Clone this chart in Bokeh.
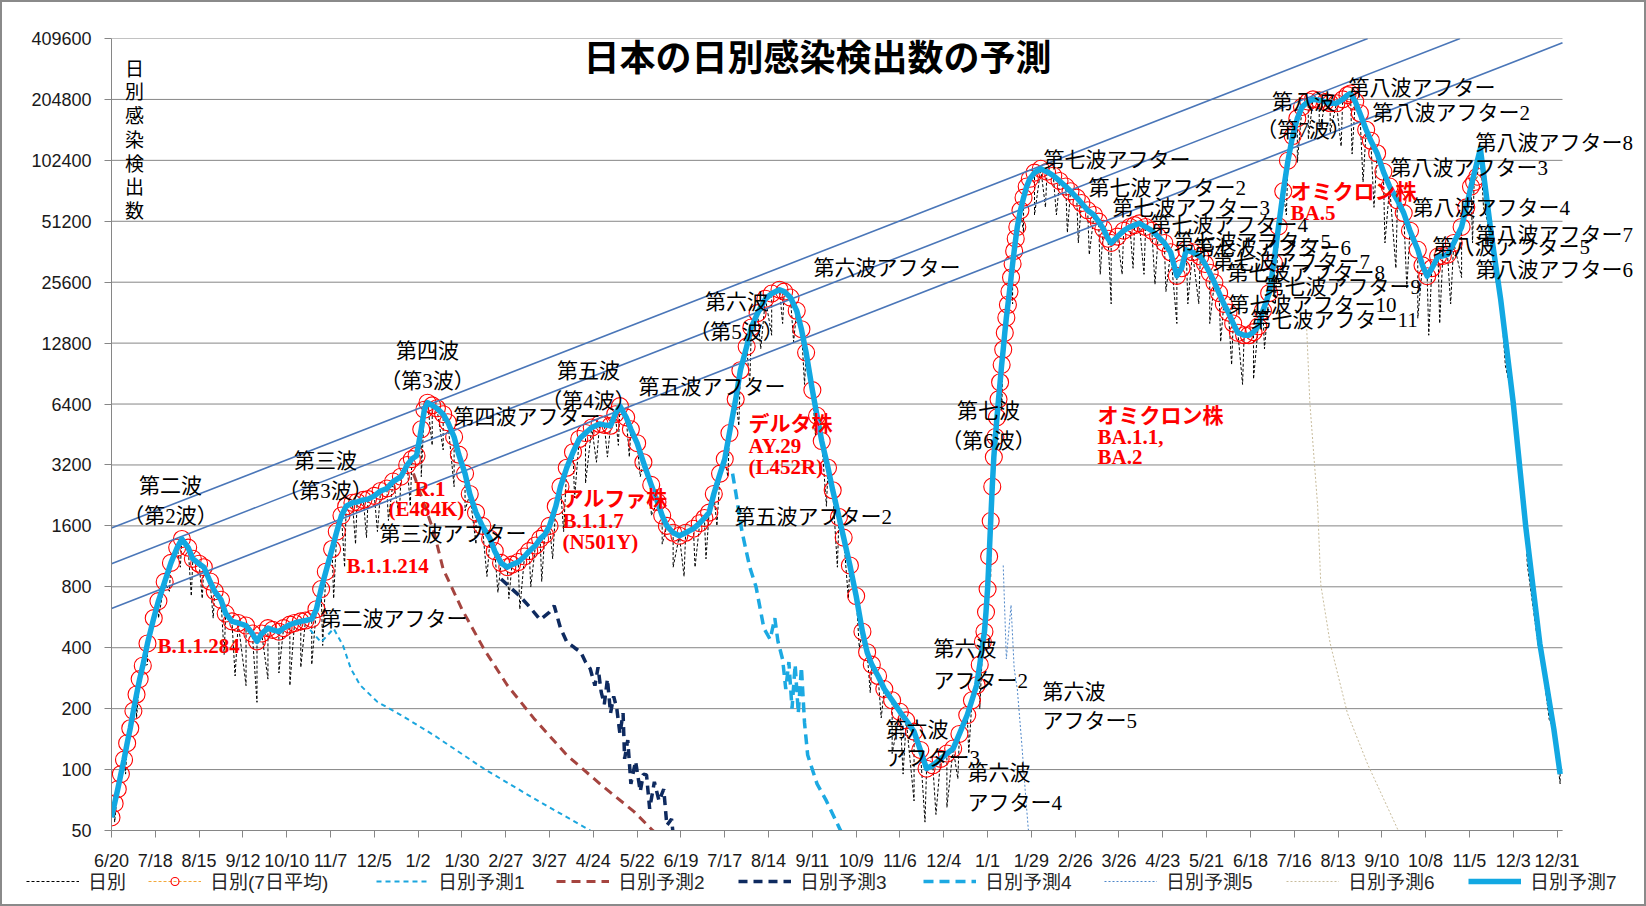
import pandas as pd
from bokeh.plotting import figure
from bokeh.layouts import column
from bokeh.models import Range1d, FixedTicker, Legend, LegendItem, Label, PrintfTickFormatter
from bokeh.embed import file_html
from bokeh.resources import INLINE

# ---------------------------------------------------------------- data
x_tick_labels = ["6/20", "7/18", "8/15", "9/12", "10/10", "11/7", "12/5", "1/2", "1/30", "2/27",
                 "3/27", "4/24", "5/22", "6/19", "7/17", "8/14", "9/11", "10/9", "11/6", "12/4",
                 "1/1", "1/29", "2/26", "3/26", "4/23", "5/21", "6/18", "7/16", "8/13", "9/10",
                 "10/8", "11/5", "12/3", "12/31"]
y_ticks = [50, 100, 200, 400, 800, 1600, 3200, 6400, 12800, 25600, 51200, 102400, 204800, 409600]

# 7-day average (red circles)
avg_dates = [
    "2020-06-20", "2020-06-22", "2020-06-24", "2020-06-26", "2020-06-28", "2020-06-30", "2020-07-02",
    "2020-07-04", "2020-07-06", "2020-07-08", "2020-07-10", "2020-07-13", "2020-07-17", "2020-07-20",
    "2020-07-24", "2020-07-28", "2020-08-01", "2020-08-04", "2020-08-08", "2020-08-11", "2020-08-15",
    "2020-08-18", "2020-08-22", "2020-08-25", "2020-08-29", "2020-09-01", "2020-09-05", "2020-09-09",
    "2020-09-14", "2020-09-18", "2020-09-21", "2020-09-24", "2020-09-28", "2020-10-01", "2020-10-05",
    "2020-10-08", "2020-10-12", "2020-10-15", "2020-10-19", "2020-10-22", "2020-10-26", "2020-10-29",
    "2020-11-01", "2020-11-04", "2020-11-08", "2020-11-11", "2020-11-14", "2020-11-17", "2020-11-21",
    "2020-11-24", "2020-11-28", "2020-12-01", "2020-12-05", "2020-12-09", "2020-12-13", "2020-12-17",
    "2020-12-22", "2020-12-26", "2020-12-29",
    "2021-01-01", "2021-01-04", "2021-01-06", "2021-01-08", "2021-01-11", "2021-01-14", "2021-01-18",
    "2021-01-21", "2021-01-25", "2021-01-28", "2021-02-01", "2021-02-04", "2021-02-08", "2021-02-12",
    "2021-02-17", "2021-02-20", "2021-02-24", "2021-02-28", "2021-03-03", "2021-03-07", "2021-03-11",
    "2021-03-14", "2021-03-18", "2021-03-21", "2021-03-24", "2021-03-27", "2021-03-31", "2021-04-03",
    "2021-04-07", "2021-04-11", "2021-04-15", "2021-04-19", "2021-04-23", "2021-04-28", "2021-05-01",
    "2021-05-05", "2021-05-08", "2021-05-11", "2021-05-15", "2021-05-18", "2021-05-22", "2021-05-26",
    "2021-05-31", "2021-06-04", "2021-06-07", "2021-06-10", "2021-06-14", "2021-06-18", "2021-06-22",
    "2021-06-27", "2021-07-01", "2021-07-04", "2021-07-07", "2021-07-10", "2021-07-14", "2021-07-17",
    "2021-07-20", "2021-07-24", "2021-07-27", "2021-07-31", "2021-08-03", "2021-08-07", "2021-08-12",
    "2021-08-16", "2021-08-21", "2021-08-24", "2021-08-28", "2021-09-01", "2021-09-04", "2021-09-07",
    "2021-09-11", "2021-09-14", "2021-09-17", "2021-09-21", "2021-09-24", "2021-09-28", "2021-10-01",
    "2021-10-05", "2021-10-09", "2021-10-13", "2021-10-16", "2021-10-19", "2021-10-23", "2021-10-27",
    "2021-11-01", "2021-11-06", "2021-11-10", "2021-11-15", "2021-11-19", "2021-11-23", "2021-11-27",
    "2021-12-02", "2021-12-06", "2021-12-10", "2021-12-14", "2021-12-19", "2021-12-22", "2021-12-25",
    "2021-12-27", "2021-12-29", "2021-12-30", "2021-12-31",
    "2022-01-01", "2022-01-02", "2022-01-03", "2022-01-04", "2022-01-05", "2022-01-06", "2022-01-07",
    "2022-01-08", "2022-01-09", "2022-01-10", "2022-01-11", "2022-01-12", "2022-01-13", "2022-01-14",
    "2022-01-15", "2022-01-16", "2022-01-17", "2022-01-18", "2022-01-19", "2022-01-20", "2022-01-22",
    "2022-01-24", "2022-01-26", "2022-01-28", "2022-01-31", "2022-02-04", "2022-02-08", "2022-02-12",
    "2022-02-16", "2022-02-20", "2022-02-23", "2022-02-27", "2022-03-02", "2022-03-06", "2022-03-10",
    "2022-03-13", "2022-03-16", "2022-03-19", "2022-03-21", "2022-03-25", "2022-03-29", "2022-04-02",
    "2022-04-05", "2022-04-08", "2022-04-12", "2022-04-16", "2022-04-20", "2022-04-24", "2022-04-28",
    "2022-05-02", "2022-05-05", "2022-05-08", "2022-05-12", "2022-05-17", "2022-05-20", "2022-05-23",
    "2022-05-26", "2022-05-29", "2022-06-01", "2022-06-04", "2022-06-07", "2022-06-10", "2022-06-14",
    "2022-06-17", "2022-06-20", "2022-06-23", "2022-06-26", "2022-06-30", "2022-07-03", "2022-07-06",
    "2022-07-09", "2022-07-12", "2022-07-15", "2022-07-18", "2022-07-21", "2022-07-25", "2022-07-28",
    "2022-08-01", "2022-08-05", "2022-08-08", "2022-08-12", "2022-08-16", "2022-08-19", "2022-08-21",
    "2022-08-24", "2022-08-27", "2022-08-31", "2022-09-03", "2022-09-07", "2022-09-11", "2022-09-15",
    "2022-09-20", "2022-09-24", "2022-09-28", "2022-10-03", "2022-10-06", "2022-10-09", "2022-10-12",
    "2022-10-16", "2022-10-19", "2022-10-22", "2022-10-26", "2022-10-31", "2022-11-03", "2022-11-06",
    "2022-11-08", "2022-11-10"]
avg_values = [
    58, 68, 80, 95, 112, 135, 160,
    195, 235, 280, 326, 420, 560, 680,
    846, 1050, 1250, 1378, 1250, 1100, 1040,
    1000, 850, 760, 690, 590, 540, 530,
    515, 470, 430, 470, 500, 490, 480,
    500, 520, 530, 540, 545, 555, 620,
    780, 950, 1230, 1500, 1800, 2000, 2080,
    2100, 2150, 2170, 2250, 2380, 2450, 2650,
    2800, 3200, 3420,
    3550, 4800, 6000, 6500, 6300, 6100, 5700,
    5200, 4400, 3600, 2900, 2300, 1860, 1600,
    1380, 1200, 1050, 1000, 1030, 1060, 1130,
    1200, 1280, 1380, 1450, 1600, 2000, 2500,
    3100, 3700, 4300, 4600, 4900, 5100, 5050,
    5000, 5700, 6250, 5500, 4800, 4100, 3300,
    2550, 2100, 1800, 1600, 1480, 1430, 1480,
    1550, 1650, 1750, 1860, 2300, 2900, 3420,
    4600, 6750, 9400, 12300, 15300, 18000, 21200,
    22500, 23500, 23000, 21500, 18500, 15000, 11500,
    7500, 5600, 4200, 3100, 2400, 1770, 1400,
    1020, 720, 480, 380, 330, 290, 250,
    220, 193, 175, 154, 125, 101, 105,
    113, 120, 127, 150, 186, 220, 261,
    330, 428, 480, 600,
    780, 1130, 1690, 2500, 3500, 4400, 5500,
    6750, 8200, 10000, 11900, 14400, 17100, 19800,
    23000, 27000, 31500, 36500, 42000, 48000, 58000,
    67000, 76000, 83000, 89000, 93000, 90000, 86000,
    81000, 76000, 72000, 67000, 63000, 58000, 55000,
    51000, 47000, 42000, 40000, 43000, 46000, 48000,
    49000, 50000, 48000, 46000, 43000, 40000, 36000,
    27500, 30000, 37000, 36000, 34300, 31500, 28500,
    25500, 22600, 20000, 18100, 16000, 14400, 14000,
    14000, 14500, 15500, 18500, 22600, 32000, 48300,
    72000, 102000, 135000, 165000, 188000, 200000, 205000,
    203000, 199000, 196000, 196000, 205000, 215000, 219000,
    200000, 175000, 145000, 128000, 111000, 90000, 76000,
    65000, 56200, 46000, 37000, 31000, 27400, 30000,
    34300, 34500, 35000, 40000, 48000, 60000, 76000,
    80000, 85000]

# daily counts: weekly low points (one per week, starting Monday 2020-06-22)
daily_low_start = "2020-06-22"
daily_low_values = [
    55, 95, 180, 330, 560, 760, 1000, 720, 700, 560, 370, 290, 260, 215, 280, 300, 260, 320, 330,
    410, 700, 1000, 1300, 1400, 1500, 1700, 1800, 2000,
    2800, 4000, 3800, 2500, 1900, 1300, 900, 750, 700, 620, 800, 850, 1100, 1500, 2200, 2600, 3300,
    3500, 4000, 3500, 2800, 1800, 1300, 1000, 900, 1000, 1100, 1600, 2800, 5000, 8000, 12000, 14000,
    16000, 13000, 8000, 4500, 2000, 1000, 700, 400, 240, 180, 120, 95, 70, 55, 60, 65, 90, 120, 200,
    900, 6000, 20000, 45000, 55000, 60000, 55000, 45000, 40000, 35000, 28000, 20000, 28000, 30000,
    28000, 25000, 23000, 16000, 20000, 20000, 16000, 13000, 10000, 8000, 8500, 12000, 20000, 55000,
    100000, 130000, 140000, 140000, 120000, 110000, 80000, 60000, 40000, 30000, 24000, 17000, 14000,
    16000, 20000, 27000, 40000, 60000, 28000, 9900, 3900, 1030, 410, 177, 85]

# forecasts
pred1_dates = ["2020-10-25", "2020-11-01", "2020-11-09", "2020-11-15", "2020-11-20", "2020-11-26",
               "2020-12-07", "2020-12-22", "2021-01-12", "2021-02-13", "2021-03-17", "2021-04-22",
               "2021-04-30"]
pred1_values = [490, 426, 497, 410, 315, 261, 216, 186, 148, 101, 72, 50, 45]

pred2_dates = ["2020-12-30", "2021-01-12", "2021-01-18", "2021-01-30", "2021-02-13", "2021-02-28",
               "2021-03-17", "2021-04-07", "2021-04-29", "2021-05-20", "2021-06-01", "2021-06-08"]
pred2_values = [2900, 1500, 980, 620, 395, 261, 179, 118, 84, 62, 50, 45]

pred3_dates = ["2021-02-24", "2021-03-03", "2021-03-08", "2021-03-14", "2021-03-21", "2021-03-27",
               "2021-03-30", "2021-04-03", "2021-04-07", "2021-04-12", "2021-04-16", "2021-04-19",
               "2021-04-22", "2021-04-25", "2021-04-27", "2021-04-29", "2021-05-01", "2021-05-03",
               "2021-05-05", "2021-05-07", "2021-05-09", "2021-05-11", "2021-05-13", "2021-05-14",
               "2021-05-16", "2021-05-18", "2021-05-21", "2021-05-24", "2021-05-26", "2021-05-28",
               "2021-05-30", "2021-06-02", "2021-06-05", "2021-06-08", "2021-06-10", "2021-06-13",
               "2021-06-14"]
pred3_values = [875, 780, 720, 640, 550, 600, 645, 500, 428, 400, 380, 340,
                315, 260, 320, 242, 210, 280, 190, 230, 200, 150, 190, 113,
                140, 85, 110, 78, 95, 94, 64, 87, 70, 80, 53, 57, 48]

pred4_dates = ["2021-07-22", "2021-07-24", "2021-07-28", "2021-08-02", "2021-08-06", "2021-08-11",
               "2021-08-15", "2021-08-18", "2021-08-20", "2021-08-23", "2021-08-25", "2021-08-27",
               "2021-08-29", "2021-08-31", "2021-09-02", "2021-09-04", "2021-09-06", "2021-09-08",
               "2021-09-14", "2021-09-20", "2021-09-29", "2021-10-02"]
pred4_values = [2900, 2350, 1500, 1000, 800, 500, 440, 560, 430, 350, 250, 340,
                200, 330, 190, 320, 170, 118, 85, 70, 50, 46]

pred5_dates = ["2022-01-11", "2022-01-13", "2022-01-16", "2022-01-18", "2022-01-20", "2022-01-23",
               "2022-01-25", "2022-01-27", "2022-01-28"]
pred5_values = [1020, 352, 650, 315, 250, 130, 80, 51, 46]

pred6_dates = ["2022-07-24", "2022-07-26", "2022-07-31", "2022-08-02", "2022-08-08", "2022-08-19",
               "2022-09-01", "2022-09-19", "2022-09-22"]
pred6_values = [15000, 6500, 2000, 820, 420, 190, 106, 53, 47]

# forecast 7 follows the 7-day average up to this date, then projects
pred7_history_end = "2022-11-06"
pred7_tail_dates = ["2022-11-12", "2022-11-19", "2022-11-25", "2022-12-03", "2022-12-11",
                    "2022-12-20", "2022-12-29", "2023-01-02"]
pred7_tail_values = [117000, 44000, 21000, 6500, 1590, 420, 158, 95]

# trend guide lines (start / end)
trend_dates = [["2020-06-20", "2022-09-01"], ["2020-06-20", "2022-10-30"],
               ["2020-06-20", "2023-01-03T12:00"]]
trend_values = [[1560, 409600], [1040, 409600], [625, 390000]]

legend_labels = ["日別", "日別(7日平均)", "日別予測1", "日別予測2", "日別予測3", "日別予測4",
                 "日別予測5", "日別予測6", "日別予測7"]

# ---------------------------------------------------------------- helpers
START = pd.Timestamp("2020-06-20")


def days(ds):
    return ((pd.to_datetime(pd.Series(ds), format="ISO8601") - START) / pd.Timedelta(days=1)).to_numpy()


X_END = float(days(["2023-01-03T12:00"])[0])      # end of the date axis

# layout (canvas pixels)
W, H_MAIN, H_LEG = 1642, 871, 31
FL, FT, FB = 109, 36, 41          # frame left / top border / bottom border
AXIS_RIGHT = 1560                 # where the date axis ends on the canvas
FRAME_RIGHT = 1640                # frame goes further right so side texts are not clipped
X_FRAME_END = X_END * (FRAME_RIGHT - FL) / (AXIS_RIGHT - FL)
LEGEND_X = [24, 146, 374, 554, 736, 921, 1102, 1284, 1466]   # left edge of each legend entry

# reference-image geometry (used only to place the free text labels)
REF_X0, REF_PX_PER_DAY, REF_Y50, REF_PX_PER_OCT = 111.0, 1.5643, 832.3, 61.08


def ref_to_data(px, py):
    return (px - REF_X0) / REF_PX_PER_DAY, 50 * 2 ** ((REF_Y50 - py) / REF_PX_PER_OCT)


JP = "Noto Sans CJK JP"
SERIF_JP = "'Liberation Serif', 'Noto Sans CJK JP'"
SANS_JP = "'Liberation Sans', 'Noto Sans CJK JP'"
SANS = "Liberation Sans"
GRID = "#868686"

# series styles (shared by the plot and the legend strip)
STY_DAILY = dict(line_color="black", line_width=1, line_dash="3 2")
STY_AVG_LINE = dict(line_color="#F2A93B", line_width=1, line_dash="3 2")
STY_AVG_MARK = dict(marker="circle", size=17, fill_color=None, line_color="#FF0000", line_width=1.1)
STY_PRED = [
    dict(line_color="#1BA6DE", line_width=2, line_dash="5 4"),
    dict(line_color="#A5443F", line_width=3, line_dash="9 6"),
    dict(line_color="#0E2A5F", line_width=3.5, line_dash="9 6"),
    dict(line_color="#1CA9E2", line_width=3.5, line_dash="10 6"),
    dict(line_color="#4F87C9", line_width=1, line_dash="2 2"),
    dict(line_color="#C8BC9C", line_width=1, line_dash="2 2"),
    dict(line_color="#12A8E2", line_width=5.5, line_join="round"),
]

# ---------------------------------------------------------------- main figure
p = figure(width=W, height=H_MAIN, output_backend="svg", toolbar_location=None, title=None,
           x_range=Range1d(0, X_FRAME_END), y_range=Range1d(50, 409600), y_axis_type="log",
           min_border_left=FL, min_border_right=W - FRAME_RIGHT, min_border_top=FT,
           min_border_bottom=FB, background_fill_color="white", border_fill_color="white")
p.outline_line_color = None
p.xgrid.visible = False
p.ygrid.visible = False
p.segment(x0=[0] * len(y_ticks), x1=[X_END] * len(y_ticks), y0=y_ticks, y1=y_ticks,
          line_color=GRID, line_width=1)

xt = [i * 28 for i in range(len(x_tick_labels))]
p.xaxis.ticker = FixedTicker(ticks=xt)
p.xaxis.major_label_overrides = {t: l for t, l in zip(xt, x_tick_labels)}
p.xaxis.bounds = (0, X_END)
p.yaxis.ticker = FixedTicker(ticks=y_ticks)
p.yaxis.formatter = PrintfTickFormatter(format="%d")
for ax in (p.xaxis, p.yaxis):
    ax.axis_line_color = GRID
    ax.major_tick_line_color = GRID
    ax.minor_tick_line_color = None
    ax.major_tick_out = 7
    ax.major_tick_in = 0
    ax.major_label_text_font = SANS
    ax.major_label_text_font_size = "18px"
    ax.major_label_text_color = "#1a1a1a"
p.xaxis.major_label_standoff = 13
p.yaxis.major_label_standoff = 13

ax_ = days(avg_dates)
avg_v = list(avg_values)

# daily line: 7-day level points + weekly lows (+ projected level after the data)
low_dates = pd.date_range(daily_low_start, periods=len(daily_low_values), freq="7D")
dl = pd.DataFrame({"x": list(ax_) + list(days(pred7_tail_dates)) + list(days(low_dates)),
                   "y": avg_v + pred7_tail_values + daily_low_values}).sort_values("x")
p.line(dl["x"], dl["y"], **STY_DAILY)

pred_series = [(pred1_dates, pred1_values), (pred2_dates, pred2_values), (pred3_dates, pred3_values),
               (pred4_dates, pred4_values), (pred5_dates, pred5_values), (pred6_dates, pred6_values)]
for (pd_, pv), sty in zip(pred_series, STY_PRED[:6]):
    p.line(days(pd_), pv, **sty)

p.line(ax_, avg_v, **STY_AVG_LINE)
p.scatter(ax_, avg_v, **STY_AVG_MARK)

for td, tv in zip(trend_dates, trend_values):
    p.line(days(td), tv, line_color="#4A76B8", line_width=1.6)

hist_mask = ax_ <= days([pred7_history_end])[0]
p7x = list(ax_[hist_mask]) + list(days(pred7_tail_dates))
p7y = [v for v, m in zip(avg_v, hist_mask) if m] + pred7_tail_values
p.line(p7x, p7y, **STY_PRED[6])

# ---------------------------------------------------------------- texts
black_texts = [
    ("第二波", 170, 487, "center"), ("（第2波）", 170, 517, "center"),
    ("第三波", 325, 462, "center"), ("（第3波）", 325, 492, "center"),
    ("第四波", 427, 352, "center"), ("（第3波）", 427, 382, "center"),
    ("第三波アフター", 379, 535, "left"), ("第四波アフター", 453, 418, "left"),
    ("第二波アフター", 320, 620, "left"),
    ("第五波", 588, 372, "center"), ("（第4波）", 588, 402, "center"),
    ("第五波アフター", 638, 388, "left"),
    ("第六波", 736, 302, "center"), ("（第5波）", 736, 333, "center"),
    ("第六波アフター", 813, 268, "left"), ("第五波アフター2", 734, 518, "left"),
    ("第七波", 988, 412, "center"), ("（第6波）", 988, 442, "center"),
    ("第六波", 933, 650, "left"), ("アフター2", 933, 682, "left"),
    ("第六波", 1042, 693, "left"), ("アフター5", 1042, 723, "left"),
    ("第六波", 885, 732, "left"), ("アフター3", 885, 760, "left"),
    ("第六波", 967, 775, "left"), ("アフター4", 967, 805, "left"),
    ("第七波アフター", 1043, 160, "left"), ("第七波アフター2", 1088, 188, "left"),
    ("第七波アフター3", 1112, 208, "left"), ("第七波アフター4", 1150, 225, "left"),
    ("第七波アフター5", 1173, 242, "left"), ("第七波アフター6", 1193, 248, "left"),
    ("第七波アフター7", 1212, 262, "left"), ("第七波アフター8", 1227, 273, "left"),
    ("第七波アフター9", 1263, 287, "left"), ("第七波アフター10", 1228, 305, "left"),
    ("第七波アフター11", 1250, 320, "left"),
    ("第八波", 1303, 102, "center"), ("（第7波）", 1303, 130, "center"),
    ("第八波アフター", 1348, 88, "left"), ("第八波アフター2", 1372, 113, "left"),
    ("第八波アフター8", 1475, 143, "left"), ("第八波アフター3", 1390, 168, "left"),
    ("第八波アフター4", 1412, 208, "left"), ("第八波アフター7", 1475, 235, "left"),
    ("第八波アフター5", 1432, 247, "left"), ("第八波アフター6", 1475, 270, "left"),
]
red_texts = [
    ("B.1.1.284", 157, 647), ("B.1.1.214", 346, 567),
    ("R.1", 414, 490), ("(E484K)", 388, 510),
    ("アルファ株", 562, 500), ("B.1.1.7", 562, 522), ("(N501Y)", 562, 543),
    ("デルタ株", 748, 425), ("AY.29", 748, 447), ("(L452R)", 748, 468),
    ("オミクロン株", 1097, 417), ("BA.1.1,", 1097, 438), ("BA.2", 1097, 458),
    ("オミクロン株", 1290, 192), ("BA.5", 1290, 213),
]


def add_text(txt, px, py, align, color, size, style, font):
    d, v = ref_to_data(px, py)
    p.add_layout(Label(x=d, y=v, text=txt, text_align=align, text_baseline="middle",
                       text_color=color, text_font_size=size, text_font_style=style,
                       text_font=font))


for t, px, py, al in black_texts:
    add_text(t, px, py, al, "black", "21px", "normal", SERIF_JP)
for t, px, py in red_texts:
    add_text(t, px, py, "left", "#FF0000", "21px", "bold", SERIF_JP)

add_text("日本の日別感染検出数の予測", 817, 55, "center", "black", "36px", "bold", JP)
for i, ch in enumerate("日別感染検出数"):
    add_text(ch, 134, 67 + i * 23.8, "center", "black", "19px", "normal", JP)

# ---------------------------------------------------------------- legend strip
lf = figure(width=W, height=H_LEG, output_backend="svg", toolbar_location=None, title=None,
            x_range=Range1d(0, 1), y_range=Range1d(0, 1), min_border=0,
            background_fill_color="white", border_fill_color="white")
lf.axis.visible = False
lf.grid.visible = False
lf.outline_line_color = None

# keep the strip's frame independent of the main plot's frame
try:
    p.frame_align = False
    lf.frame_align = False
    LEG_SHIFT = 0
except AttributeError:
    LEG_SHIFT = FL

# proxy renderers (placed outside the visible range) that carry the series styles
OUT = ([-3, -2], [-3, -3])
lg_r = [[lf.line(*OUT, **STY_DAILY)],
        [lf.line(*OUT, **STY_AVG_LINE), lf.scatter(*OUT, **STY_AVG_MARK)]]
lg_r += [[lf.line(*OUT, **sty)] for sty in STY_PRED]
for lbl, rs, lx in zip(legend_labels, lg_r, LEGEND_X):
    lf.add_layout(Legend(items=[LegendItem(label=lbl, renderers=rs)], location=(lx - LEG_SHIFT, 10),
                         glyph_width=53, glyph_height=20, label_standoff=9, padding=0, margin=0,
                         border_line_color=None, background_fill_alpha=0,
                         label_text_font=SANS_JP, label_text_font_size="19px",
                         label_text_color="#262626"), "center")

layout = column(p, lf, spacing=0, styles={"border": "2px solid #8a8a8a"})

open("out.html", "w").write(file_html(layout, INLINE))
